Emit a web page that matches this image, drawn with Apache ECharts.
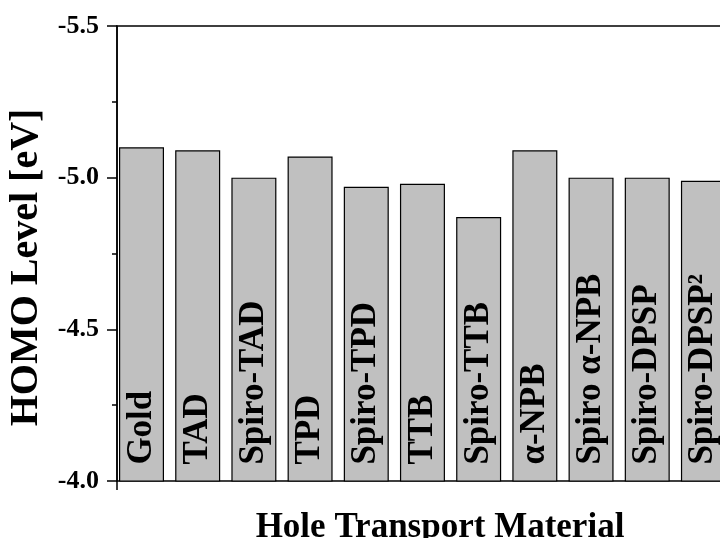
<!DOCTYPE html>
<html>
<head>
<meta charset="utf-8">
<script src="https://cdn.jsdelivr.net/npm/echarts@6/dist/echarts.min.js"></script>
<style>
  html, body { margin: 0; padding: 0; background: #fff; }
  #homo { width: 720px; height: 538px; }
</style>
</head>
<body>
<div id="homo"></div>
<script>
// hole transport materials, left to right
var materials = ['Gold', 'TAD', 'Spiro-TAD', 'TPD', 'Spiro-TPD', 'TTB',
    'Spiro-TTB', 'α-NPB', 'Spiro α-NPB', 'Spiro-DPSP', 'Spiro-DPSP²'];
// HOMO level in eV
var homo = [-5.10, -5.09, -5.00, -5.07, -4.97, -4.98, -4.87, -5.09, -5.00, -5.00, -4.99];
var yTicks = [-5.5, -5.0, -4.5, -4.0];

var serif = "'Liberation Serif', 'Times New Roman', serif";

var dom = document.getElementById("homo");
var myChart = echarts.init(dom);
var option = null;

var xMin = 0.564;
var barData = homo.map(function (v, i) {
    return [i + 1, v];
});

option = {
    animation: false,
    grid: {
        left: 117,
        top: 26,
        right: -43,   // frame runs on past the right edge of the picture
        bottom: 57,
        outerBoundsMode: 'none',
        containLabel: false,
        show: true,
        borderColor: '#000',
        borderWidth: 1.5
    },
    xAxis: {
        type: 'value',
        min: xMin,
        max: 12.06,
        axisLine: {show: false},
        // only the little stub under the origin
        axisTick: {show: true, customValues: [xMin], length: 9, lineStyle: {color: '#000', width: 1.5}},
        axisLabel: {show: false},
        splitLine: {show: false},
        name: 'Hole Transport Material',
        nameLocation: 'middle',
        nameGap: 29,
        nameTextStyle: {
            fontFamily: serif,
            fontWeight: 'bold',
            fontSize: 35,
            color: '#000'
        }
    },
    yAxis: {
        type: 'value',
        inverse: true,
        min: yTicks[0],
        max: yTicks[yTicks.length - 1],
        interval: 0.5,
        axisLine: {show: true, lineStyle: {color: '#000', width: 1.5}},
        axisTick: {show: true, inside: false, length: 10, lineStyle: {color: '#000', width: 1.5}},
        minorTick: {show: true, splitNumber: 2, length: 5, lineStyle: {color: '#000', width: 1.5}},
        splitLine: {show: false},
        axisLabel: {
            margin: 18,
            fontFamily: serif,
            fontWeight: 'bold',
            fontSize: 26,
            color: '#000',
            formatter: function (v) {
                return v.toFixed(1);
            }
        },
        name: 'HOMO Level [eV]',
        nameLocation: 'middle',
        nameGap: 68,
        nameTextStyle: {
            fontFamily: serif,
            fontWeight: 'bold',
            fontSize: 40,
            color: '#000',
            padding: [0, 28, 0, 0]
        }
    },
    series: [{
        type: 'bar',
        data: barData,
        barWidth: 45,
        itemStyle: {
            color: '#c0c0c0',
            borderColor: '#000',
            borderWidth: 1.2
        },
        label: {
            show: true,
            position: 'insideBottom',
            rotate: 90,
            align: 'left',
            verticalAlign: 'middle',
            distance: 17,
            fontFamily: serif,
            fontWeight: 'bold',
            fontSize: 35,
            color: '#000',
            formatter: function (p) {
                return materials[p.dataIndex];
            }
        }
    }]
};

if (option && typeof option === "object") {
    myChart.setOption(option, true);
}
</script>
</body>
</html>
